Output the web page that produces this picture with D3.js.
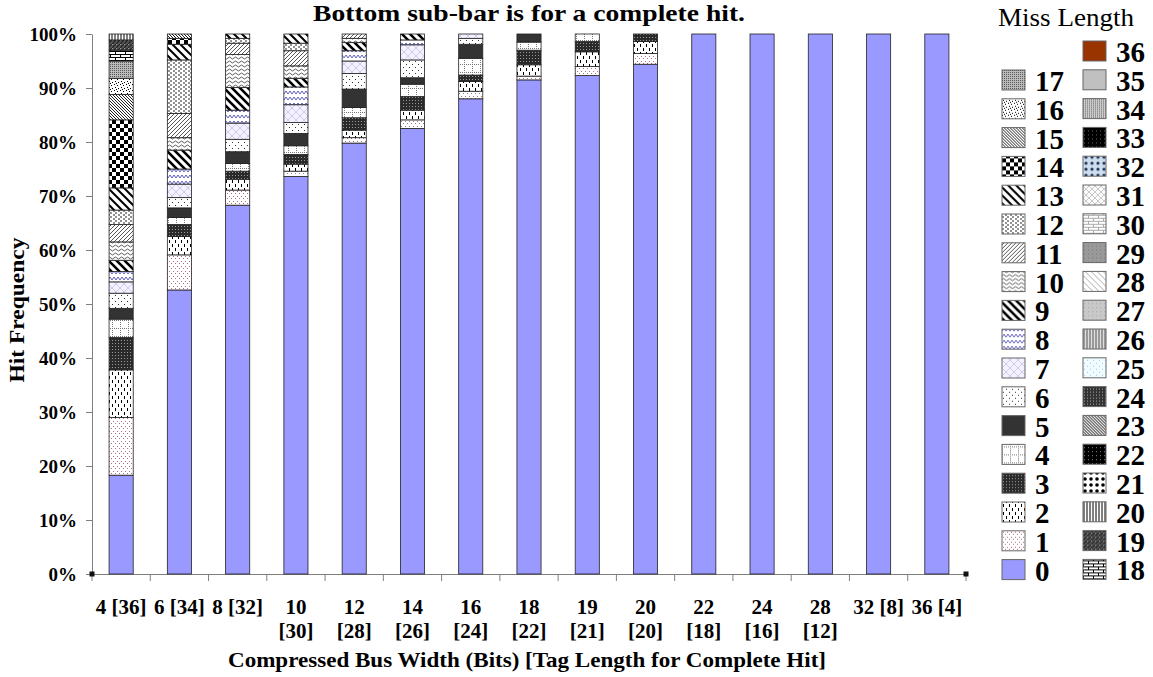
<html>
<head>
  <style>
    body{margin:0;background:#fff}
    .chart text{font-family:'Liberation Serif','Times New Roman',serif;fill:#000}
    .chart .axis path,
    .chart .axis line{stroke:#808080;stroke-width:1px}
    .chart .axis text{font-weight:bold;font-size:19px}
    .chart .xaxis text{font-size:21px}
    .chart .seg{stroke:#222;stroke-width:0.8px}
  </style>
</head>
<body>
<div id="chart"></div>
<script src="https://d3js.org/d3.v7.min.js"></script>
<script>

// category labels (bus width [tag length]); '|' marks the line break
var categories = ['4 [36]', '6 [34]', '8 [32]', '10|[30]', '12|[28]', '14|[26]', '16|[24]',
                  '18|[22]', '19|[21]', '20|[20]', '22|[18]', '24|[16]', '28|[12]', '32 [8]', '36 [4]'];

// percentage of hits for miss length 0, 1, 2, ... (index = miss length)
var shares = [
  [18.3, 10.7, 8.8, 6.0, 3.4, 2.0, 2.8, 2.1, 1.9, 2.1, 3.4, 3.2, 2.7, 4.1, 12.6, 4.7, 3.0, 3.2, 2.0, 1.9, 1.1],
  [52.6, 6.5, 3.4, 2.2, 1.3, 1.8, 1.9, 2.5, 2.8, 3.5, 2.3, 4.5, 9.9, 2.9, 1.1, 0.8],
  [68.3, 2.8, 2.0, 1.5, 1.4, 2.2, 2.3, 3.0, 2.4, 4.2, 6.1, 2.1, 0.9, 0.8],
  [73.6, 1.0, 1.3, 1.8, 1.6, 2.3, 2.0, 3.3, 3.3, 1.6, 2.3, 2.8, 1.4, 1.7],
  [79.8, 1.0, 1.4, 2.3, 1.9, 3.4, 2.9, 2.3, 1.9, 1.5, 0.8, 0.8],
  [82.5, 1.6, 1.8, 2.5, 2.3, 1.2, 3.3, 2.8, 0.9, 1.1],
  [88.0, 1.4, 1.8, 1.2, 3.1, 2.6, 1.1, 0.8],
  [91.5, 0.7, 2.1, 2.7, 1.5, 1.5],
  [92.3, 1.7, 2.7, 1.9, 1.4],
  [94.4, 2.0, 2.2, 1.4],
  [100],
  [100],
  [100],
  [100],
  [100]
];

var yTicks = [0, 10, 20, 30, 40, 50, 60, 70, 80, 90, 100];

// legend order, top to bottom
var legendLeft  = [17, 16, 15, 14, 13, 12, 11, 10, 9, 8, 7, 6, 5, 4, 3, 2, 1, 0];
var legendRight = [36, 35, 34, 33, 32, 31, 30, 29, 28, 27, 26, 25, 24, 23, 22, 21, 20, 19, 18];

(function () {

  var
    width   = 1153,
    height  = 677,
    left    = 92,
    right   = 966,
    top     = 34,
    bottom  = 574,
    keys    = d3.range(37),
    svg     = d3.select('#chart').append('svg')
                .attr('class', 'chart')
                .attr('width', width)
                .attr('height', height),
    defs    = svg.append('defs');

  // ---- fill patterns, one per miss length ----
  function pat(k, w, h, bg, draw) {
    var p = defs.append('pattern')
      .attr('id', 'ml' + k)
      .attr('patternUnits', 'userSpaceOnUse')
      .attr('width', w)
      .attr('height', h);
    p.append('rect').attr('width', w).attr('height', h).attr('fill', bg);
    if (draw) draw(p);
  }
  function dots(p, pts, c, s) {
    pts.forEach(function (q) {
      p.append('rect').attr('x', q[0]).attr('y', q[1]).attr('width', s || 1).attr('height', s || 1).attr('fill', c);
    });
  }
  function path(p, d, c, sw) {
    p.append('path').attr('d', d).attr('stroke', c).attr('stroke-width', sw).attr('fill', 'none');
  }

  pat(0, 4, 4, '#9999ff');
  pat(1, 4, 5, '#fff', function (p) { dots(p, [[1, 1], [3, 3]], '#b07080'); });
  pat(2, 6, 8, '#fff', function (p) { path(p, 'M1.5,0V3M4.5,4V7', '#000', 1); });
  pat(3, 3, 3, '#2a2a2a', function (p) { dots(p, [[1, 1]], '#999'); });
  pat(4, 8, 8, '#fff', function (p) { path(p, 'M0,0.5H8M0.5,0V8', '#777', 1); p.select('path').attr('stroke-dasharray', '1,1'); });
  pat(5, 4, 4, '#333');
  pat(6, 6, 6, '#fff', function (p) { dots(p, [[1, 1], [4, 4]], '#333'); });
  pat(7, 8, 8, '#f5f2ff', function (p) { path(p, 'M0,8L8,0M0,0L8,8', '#c8c0e8', 0.8); });
  pat(8, 8, 6, '#fff', function (p) { path(p, 'M0,4L2,1L4,4L6,1L8,4', '#6060c0', 1); });
  pat(9, 8, 8, '#fff', function (p) { path(p, 'M-2,2L2,-2M0,0L8,8M6,10L10,6M-4,4L4,12M4,-4L12,4', '#000', 2.6); });
  pat(10, 6, 4, '#fff', function (p) { path(p, 'M0,2L1.5,1L3,2L4.5,3L6,2', '#333', 0.8); });
  pat(11, 4, 4, '#fff', function (p) { path(p, 'M0,4L4,0M-1,1L1,-1M3,5L5,3', '#444', 0.9); });
  pat(12, 5, 4, '#fff', function (p) { path(p, 'M0,1H2M3,3H5', '#222', 1); });
  pat(13, 8, 8, '#fff', function (p) { path(p, 'M0,0L8,8M-4,4L4,12M4,-4L12,4', '#000', 2); });
  pat(14, 8, 8, '#fff', function (p) { dots(p, [[0, 0], [4, 4]], '#000', 4); });
  pat(15, 3, 3, '#fff', function (p) { path(p, 'M0,0L3,3M-1,2L1,4M2,-1L4,1', '#222', 1); });
  pat(16, 6, 6, '#fff', function (p) { dots(p, [[0, 0], [3, 1], [1, 3], [4, 4], [2, 5]], '#000', 1); });
  pat(17, 2, 2, '#bbb', function (p) { dots(p, [[0, 0]], '#555'); });
  pat(18, 10, 6, '#fff', function (p) { path(p, 'M0,0.5H10M0,3.5H10M0.5,0.5V3.5M5.5,3.5V6', '#000', 1); });
  pat(19, 4, 4, '#555', function (p) { path(p, 'M0,4L4,0', '#222', 1.2); dots(p, [[0, 0]], '#999'); });
  pat(20, 3, 3, '#fff', function (p) { path(p, 'M1,0V3', '#000', 1); });
  pat(21, 6, 6, '#fff', function (p) { p.append('circle').attr('cx', 2).attr('cy', 2).attr('r', 1.8).attr('fill', '#000'); });
  pat(22, 4, 4, '#000', function (p) { dots(p, [[1, 1]], '#888'); });
  pat(23, 3, 3, '#ddd', function (p) { dots(p, [[0, 0], [1, 1], [2, 2]], '#333'); });
  pat(24, 3, 3, '#333', function (p) { dots(p, [[1, 1]], '#aaa'); });
  pat(25, 6, 6, '#f0fcff', function (p) { dots(p, [[1, 1], [4, 4]], '#9cd'); });
  pat(26, 3, 3, '#ddd', function (p) { path(p, 'M1,0V3', '#555', 1); });
  pat(27, 4, 4, '#c8c8c8', function (p) { dots(p, [[1, 1]], '#aaa'); });
  pat(28, 6, 6, '#fff', function (p) { path(p, 'M0,0L6,6M-3,3L3,9M3,-3L9,3', '#aaa', 1); });
  pat(29, 4, 4, '#999', function (p) { dots(p, [[1, 1]], '#777'); });
  pat(30, 10, 6, '#fff', function (p) { path(p, 'M0,0.5H10M0,3.5H10M0.5,0.5V3.5M5.5,3.5V6', '#aaa', 1); });
  pat(31, 6, 6, '#fafafa', function (p) { path(p, 'M0,3L3,0L6,3L3,6Z', '#bbb', 0.8); });
  pat(32, 6, 6, '#cde', function (p) { p.append('circle').attr('cx', 3).attr('cy', 3).attr('r', 1.6).attr('fill', '#235'); });
  pat(33, 4, 4, '#000', function (p) { dots(p, [[1, 1]], '#666'); });
  pat(34, 2, 2, '#ccc', function (p) { dots(p, [[0, 0]], '#666'); });
  pat(35, 4, 4, '#c0c0c0');
  pat(36, 4, 4, '#993300');

  // ---- scales ----
  var x = d3.scaleBand()
    .domain(categories)
    .range([left, right])
    .paddingInner(0.586)
    .paddingOuter(0.293);

  var y = d3.scaleLinear()
    .domain([0, 100])
    .range([bottom, top]);

  var rows = categories.map(function (c, i) {
    var r = { cat: c };
    keys.forEach(function (k) { r[k] = shares[i][k] || 0; });
    return r;
  });

  var stacked = d3.stack().keys(keys)(rows);

  // ---- axes ----
  svg.append('g')
    .attr('class', 'axis')
    .attr('transform', 'translate(' + left + ',0)')
    .call(d3.axisLeft(y).tickValues(yTicks).tickFormat(function (d) { return d + '%'; }).tickSize(6).tickPadding(9).tickSizeOuter(0));

  var xAxis = svg.append('g')
    .attr('class', 'axis xaxis')
    .attr('transform', 'translate(0,' + bottom + ')')
    .call(d3.axisBottom(x).tickSize(0).tickPadding(25).tickSizeOuter(0));

  xAxis.selectAll('.tick text')
    .each(function (d) {
      var t = d3.select(this), parts = d.split('|');
      t.text(null);
      parts.forEach(function (s, i) {
        t.append('tspan').attr('x', 0).attr('dy', i === 0 ? '0.71em' : '1.15em').text(s);
      });
    });

  // category boundary ticks
  var bounds = [left].concat(categories.map(function (c) { return x(c) + x.bandwidth() + x.step() * x.paddingInner() / 2; }));
  xAxis.selectAll('.bound')
    .data(bounds)
    .enter().append('line')
    .attr('x1', function (d) { return d; })
    .attr('x2', function (d) { return d; })
    .attr('y1', 0)
    .attr('y2', 7)
    .style('stroke', '#808080');

  // small end markers on the axis
  svg.selectAll('.endmark')
    .data(x.range())
    .enter().append('rect')
    .attr('x', function (d) { return d - 2.5; })
    .attr('y', bottom - 2.5)
    .attr('width', 5)
    .attr('height', 5)
    .attr('fill', '#111');

  // ---- stacked bars ----
  svg.append('g')
    .selectAll('g')
    .data(stacked)
    .enter().append('g')
    .attr('fill', function (s) { return 'url(#ml' + s.key + ')'; })
    .selectAll('rect')
    .data(function (s) { return s.filter(function (d) { return d[1] - d[0] > 0; }); })
    .enter().append('rect')
    .attr('class', 'seg')
    .attr('x', function (d) { return x(d.data.cat); })
    .attr('y', function (d) { return y(d[1]); })
    .attr('width', x.bandwidth())
    .attr('height', function (d) { return y(d[0]) - y(d[1]); });

  // ---- titles ----
  svg.append('text')
    .text('Bottom sub-bar is for a complete hit.')
    .attr('x', 529)
    .attr('y', 21)
    .attr('text-anchor', 'middle')
    .attr('textLength', 432)
    .attr('lengthAdjust', 'spacingAndGlyphs')
    .style('font-weight', 'bold')
    .style('font-size', '23px');

  svg.append('text')
    .text('Hit Frequency')
    .attr('transform', 'translate(24,' + (y(50) + 6) + ') rotate(-90)')
    .attr('text-anchor', 'middle')
    .attr('textLength', 145)
    .attr('lengthAdjust', 'spacingAndGlyphs')
    .style('font-weight', 'bold')
    .style('font-size', '20px');

  svg.append('text')
    .text('Compressed Bus Width (Bits) [Tag Length for Complete Hit]')
    .attr('x', 527)
    .attr('y', 667)
    .attr('text-anchor', 'middle')
    .attr('textLength', 598)
    .attr('lengthAdjust', 'spacingAndGlyphs')
    .style('font-weight', 'bold')
    .style('font-size', '21px');

  // ---- legend ----
  var legend = svg.append('g');

  legend.append('text')
    .text('Miss Length')
    .attr('x', 1066)
    .attr('y', 26)
    .attr('text-anchor', 'middle')
    .attr('textLength', 136)
    .attr('lengthAdjust', 'spacingAndGlyphs')
    .style('font-size', '25px');

  var rowY = d3.scaleLinear().domain([0, 1]).range([0, 28.8]);

  function column(list, x0, y0) {
    var item = legend.selectAll(null)
      .data(list)
      .enter().append('g')
      .attr('transform', function (d, i) { return 'translate(' + x0 + ',' + (y0 + rowY(i)) + ')'; });
    item.append('rect')
      .attr('x', 0)
      .attr('y', -10)
      .attr('width', 23)
      .attr('height', 20)
      .attr('fill', function (d) { return 'url(#ml' + d + ')'; })
      .style('stroke', '#666')
      .style('stroke-width', '1px');
    item.append('text')
      .text(function (d) { return d; })
      .attr('x', 33)
      .attr('y', 11)
      .style('font-weight', 'bold')
      .style('font-size', '29px');
  }
  column(legendLeft, 1002, 80);
  column(legendRight, 1083, 51);

})();
</script>
</body>
</html>
